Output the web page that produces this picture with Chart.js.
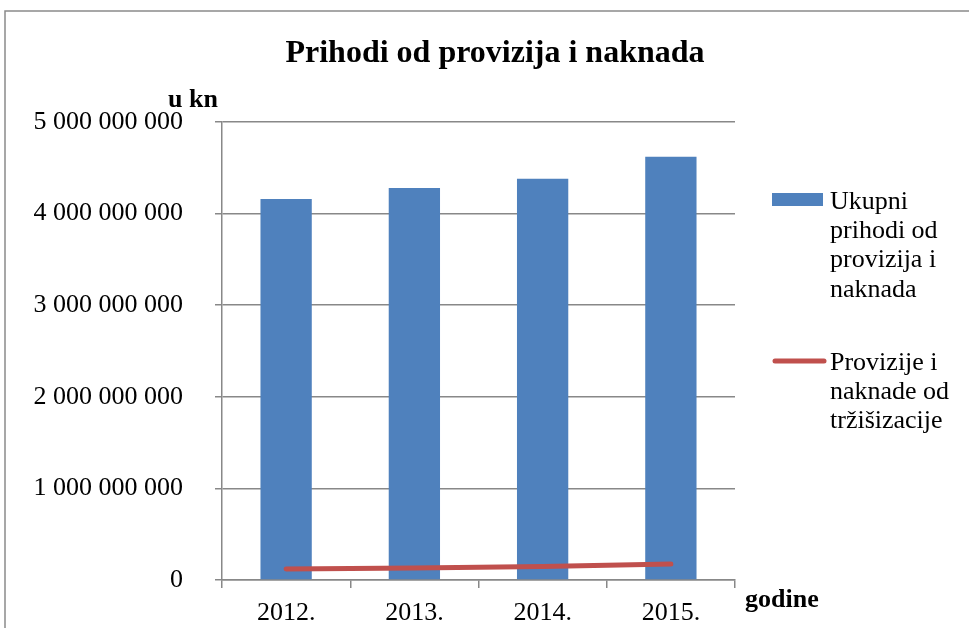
<!DOCTYPE html>
<html><head><meta charset="utf-8">
<script src="https://cdn.jsdelivr.net/npm/chart.js@4.4.0/dist/chart.umd.min.js"></script>
<style>html,body{margin:0;padding:0;background:#fff}#wrap{width:969px;height:628px;position:relative}</style>
</head><body><div id="wrap"><canvas id="c" width="969" height="628"></canvas></div>
<script>
const years = ["2012.", "2013.", "2014.", "2015."];
const ukupniPrihodi = [4160000000, 4280000000, 4380000000, 4620000000];
const trzisizacija = [120000000, 132000000, 148000000, 175000000];
const yTicks = [0, 1000000000, 2000000000, 3000000000, 4000000000, 5000000000];
const titleText = "Prihodi od provizija i naknada";
const yUnit = "u kn";
const xUnit = "godine";
const legendBar = ["Ukupni", "prihodi od", "provizija i", "naknada"];
const legendLine = ["Provizije i", "naknade od", "tržišizacije"];

const SERIF = "'Liberation Serif', 'Times New Roman', serif";
const GRID = "#888888";

const extras = {
  id: "extras",
  afterDraw(chart) {
    const ctx = chart.ctx;
    ctx.save();
    // outer frame
    ctx.strokeStyle = "#8a8a8a";
    ctx.lineWidth = 1.5;
    ctx.strokeRect(5, 11, 1100, 800);
    // title
    ctx.fillStyle = "#000";
    ctx.textAlign = "center";
    ctx.textBaseline = "alphabetic";
    ctx.font = "bold 32px " + SERIF;
    ctx.fillText(titleText, 495, 62);
    // units
    ctx.font = "bold 26px " + SERIF;
    ctx.textAlign = "left";
    ctx.fillText(yUnit, 168, 107);
    ctx.fillText(xUnit, 745, 607);
    // legend
    ctx.font = "26px " + SERIF;
    ctx.textBaseline = "middle";
    const lh = 29.3;
    ctx.fillStyle = "#4f81bd";
    ctx.fillRect(772, 193, 51, 13);
    ctx.fillStyle = "#000";
    legendBar.forEach((t, i) => ctx.fillText(t, 830, 202 + i * lh));
    ctx.strokeStyle = "#c0504d";
    ctx.lineWidth = 5;
    ctx.lineCap = "round";
    ctx.beginPath(); ctx.moveTo(775, 361); ctx.lineTo(824, 361); ctx.stroke();
    ctx.fillStyle = "#000";
    legendLine.forEach((t, i) => ctx.fillText(t, 830, 363 + i * lh));
    ctx.restore();
  }
};

new Chart(document.getElementById("c"), {
  data: {
    labels: years,
    datasets: [
      { type: "line", label: legendLine.join(" "), data: trzisizacija, borderColor: "#c0504d", backgroundColor: "#c0504d",
        borderWidth: 5, pointRadius: 0, tension: 0, borderCapStyle: "round", order: 0 },
      { type: "bar", label: legendBar.join(" "), data: ukupniPrihodi, backgroundColor: "#4f81bd",
        categoryPercentage: 1, barPercentage: 0.4, order: 1 }
    ]
  },
  options: {
    responsive: false,
    animation: false,
    layout: { padding: { left: 0, right: 234, top: 122, bottom: 0 } },
    plugins: { legend: { display: false }, title: { display: false }, tooltip: { enabled: false } },
    scales: {
      x: {
        offset: true,
        grid: { offset: true, drawOnChartArea: false, drawTicks: true, tickLength: 8, color: GRID, lineWidth: 1.5 },
        border: { color: GRID, width: 1.5 },
        ticks: { color: "#000", font: { family: SERIF, size: 26 }, padding: 10, maxRotation: 0 },
        afterFit(s) { s.height = 48; }
      },
      y: {
        min: 0, max: 5000000000,
        afterBuildTicks(s) { s.ticks = yTicks.map(v => ({ value: v })); },
        grid: { color: GRID, lineWidth: 1.5, tickLength: 7 },
        border: { color: GRID, width: 1.5 },
        ticks: { color: "#000", font: { family: SERIF, size: 26 }, padding: 32,
          callback: v => String(v).replace(/\B(?=(\d{3})+(?!\d))/g, " ") },
        afterFit(s) { s.width = 222; }
      }
    }
  },
  plugins: [extras]
});
</script></body></html>
